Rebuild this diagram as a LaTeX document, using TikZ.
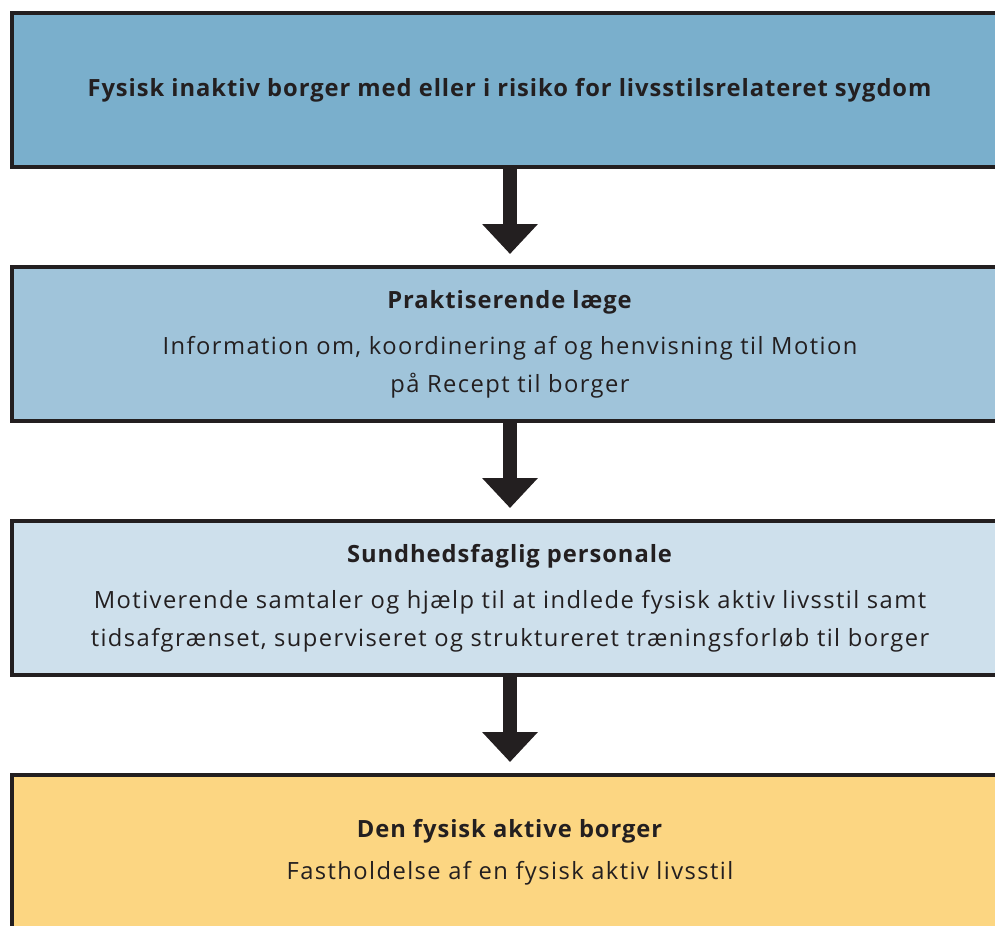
\documentclass[tikz,border=0pt]{standalone}
\usepackage{fontspec}
\setmainfont{Open Sans}[LetterSpace=6, BoldFeatures={LetterSpace=4}]
\usetikzlibrary{arrows.meta}
\usetikzlibrary{positioning}

\definecolor{inaktivblue}{HTML}{7AAFCC}
\definecolor{laegeblue}{HTML}{A0C4DA}
\definecolor{personaleblue}{HTML}{CEE0EC}
\definecolor{aktivyellow}{HTML}{FCD682}
\definecolor{darkline}{HTML}{231F20}

\begin{document}
\begin{tikzpicture}[
    font=\fontsize{13.5}{21.6}\selectfont,
    box/.style={draw=darkline, line width=0.08cm, minimum width=19.92cm,
      minimum height=3.08cm, align=center, text=darkline, inner sep=0pt,
      outer sep=0pt},
    pil/.style={darkline, line width=0.28cm, shorten >=0.26cm,
      -{Triangle[width=1.08cm,length=0.6cm]}},
    node distance=2cm
  ]

    \useasboundingbox (0,0) rectangle (19.9,-18.5);
    \clip (0,0) rectangle (19.9,-18.5);

    % draw boxes
    \node[box, fill=inaktivblue] (inaktiv) at (10.2,-1.8)
      {\textbf{Fysisk inaktiv borger med eller i risiko for livsstilsrelateret sygdom}};
    \node[box, fill=laegeblue, below=of inaktiv] (laege)
      {\textbf{Praktiserende læge}\\[0.16cm]
       Information om, koordinering af og henvisning til Motion\\
       på Recept til borger};
    \node[box, fill=personaleblue, below=of laege] (personale)
      {\textbf{Sundhedsfaglig personale}\\[0.16cm]
       Motiverende samtaler og hjælp til at indlede fysisk aktiv livsstil samt\\
       tidsafgrænset, superviseret og struktureret træningsforløb til borger};
    \node[box, fill=aktivyellow, below=of personale] (aktiv)
      {\textbf{Den fysisk aktive borger}\\[0.08cm]
       Fastholdelse af en fysisk aktiv livsstil};

    % arrows
    \draw[pil] (inaktiv) -- (laege);
    \draw[pil] (laege) -- (personale);
    \draw[pil] (personale) -- (aktiv);

\end{tikzpicture}
\end{document}
